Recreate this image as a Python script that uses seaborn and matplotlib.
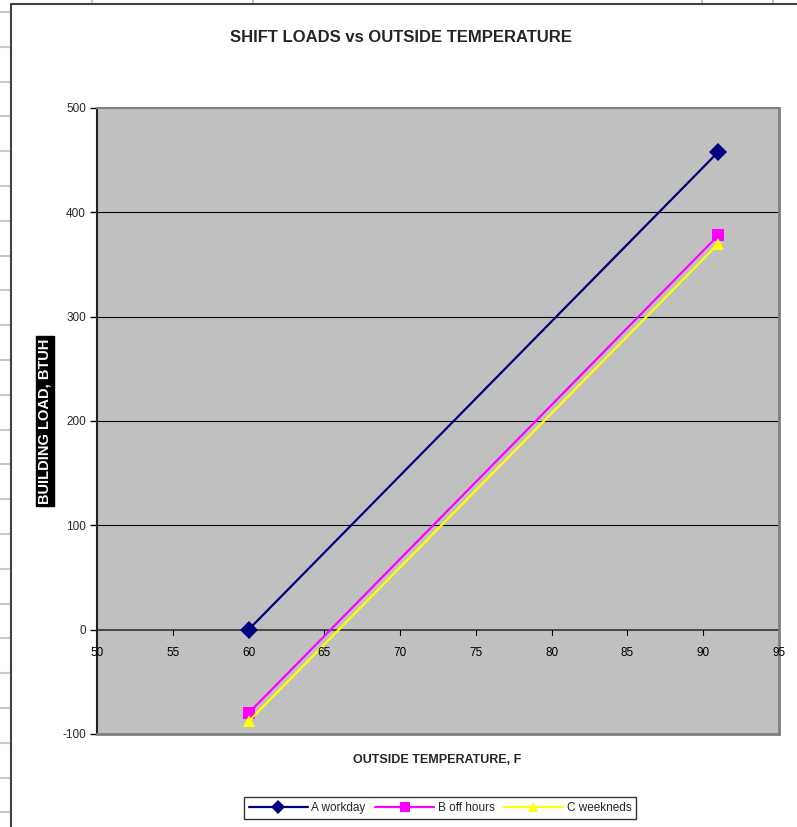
import matplotlib
matplotlib.use("Agg")
import matplotlib.pyplot as plt
from matplotlib.lines import Line2D
import seaborn as sns
import pandas as pd

# ---- data ----
temps = [60, 91]
workday = [0, 458]
off_hours = [-80, 378]
weekends = [-88, 370]
series_names = ["A workday", "B off hours", "C weekneds"]
x_ticks = [50, 55, 60, 65, 70, 75, 80, 85, 90, 95]
y_ticks = [-100, 0, 100, 200, 300, 400, 500]

df = pd.DataFrame({
    "temp": temps * 3,
    "load": workday + off_hours + weekends,
    "series": [series_names[0]] * 2 + [series_names[1]] * 2 + [series_names[2]] * 2,
})

sns.set_style("white")
plt.rcParams['font.family'] = ['Liberation Sans', 'DejaVu Sans']

fig = plt.figure(figsize=(7.97, 8.27), dpi=100)
W, H = 797, 827

def fx(px):
    return px / W

def fy(py):
    return 1 - py / H

# spreadsheet background lines
grey = "#c8c8c8"
for i in range(24):
    yy = 12 + i * 34.8
    if yy < H:
        fig.add_artist(Line2D([0, fx(11)], [fy(yy), fy(yy)], color=grey, lw=1.5))
for xx in [92, 253, 702, 773]:
    fig.add_artist(Line2D([fx(xx), fx(xx)], [fy(0), fy(4)], color=grey, lw=1.5))
# chart frame
fig.add_artist(Line2D([fx(11), fx(11)], [fy(4), 0], color="#404040", lw=1.5))
fig.add_artist(Line2D([fx(11), 1], [fy(4), fy(4)], color="#404040", lw=1.5))

ax = fig.add_axes([fx(97), fy(734), fx(779) - fx(97), fy(108) - fy(734)])
ax.set_facecolor("#c0c0c0")

palette = {series_names[0]: "#000080", series_names[1]: "#ff00ff", series_names[2]: "#ffff00"}
markers = {series_names[0]: "D", series_names[1]: "s", series_names[2]: "^"}
sns.lineplot(data=df, x="temp", y="load", hue="series", style="series",
             palette=palette, markers=markers, dashes=False, markersize=9,
             markeredgewidth=0, linewidth=1.6, ax=ax, legend=False, zorder=3)

ax.set_xlim(50, 95)
ax.set_ylim(-100, 500)
ax.set_yticks(y_ticks)
ax.set_xticks(x_ticks)
ax.set_yticklabels([str(v) for v in y_ticks], fontsize=8.5)
ax.set_xticklabels([])
for v in x_ticks:
    ax.text(v, -17, str(v), ha="center", va="top", fontsize=8.5, color="black", zorder=5)
for v in [100, 200, 300, 400]:
    ax.axhline(v, color="black", lw=0.8, zorder=1)
ax.axhline(0, color="#303030", lw=1.2, zorder=2)
for v in x_ticks[1:-1]:
    ax.plot([v, v], [0, -5], color="black", lw=0.8, zorder=2)
ax.tick_params(axis="y", direction="out", length=5, width=1, color="black", left=True, pad=3)
ax.tick_params(axis="x", length=0)
ax.set_xlabel("")
ax.set_ylabel("")
ax.spines["left"].set_color("#202020")
ax.spines["left"].set_linewidth(1.5)
for s in ["right", "bottom"]:
    ax.spines[s].set_color("#808080")
    ax.spines[s].set_linewidth(2)
ax.spines["top"].set_color("#808080")
ax.spines["top"].set_linewidth(1.5)

fig.text(fx(401), fy(37), "SHIFT LOADS vs OUTSIDE TEMPERATURE", ha="center", va="center",
         fontsize=12, fontweight="bold")
fig.text(fx(437), fy(760), "OUTSIDE TEMPERATURE, F", ha="center", va="center",
         fontsize=9, fontweight="bold")
fig.text(fx(45), fy(421), "BUILDING LOAD, BTUH", ha="center", va="center", rotation=90,
         fontsize=10.5, fontweight="bold", color="white",
         bbox=dict(boxstyle="square,pad=0.15", fc="black", ec="black"))

handles = [Line2D([0], [0], color=palette[n], marker=markers[n], markersize=7, lw=1.6,
                  markeredgewidth=0) for n in series_names]
fig.legend(handles, series_names, loc="center", bbox_to_anchor=(fx(440), fy(808)), ncol=3,
           fontsize=8.5, frameon=True, fancybox=False, edgecolor="black", handlelength=5,
           columnspacing=0.8, handletextpad=0.3, borderpad=0.45)

fig.savefig("out.png", dpi=100)
